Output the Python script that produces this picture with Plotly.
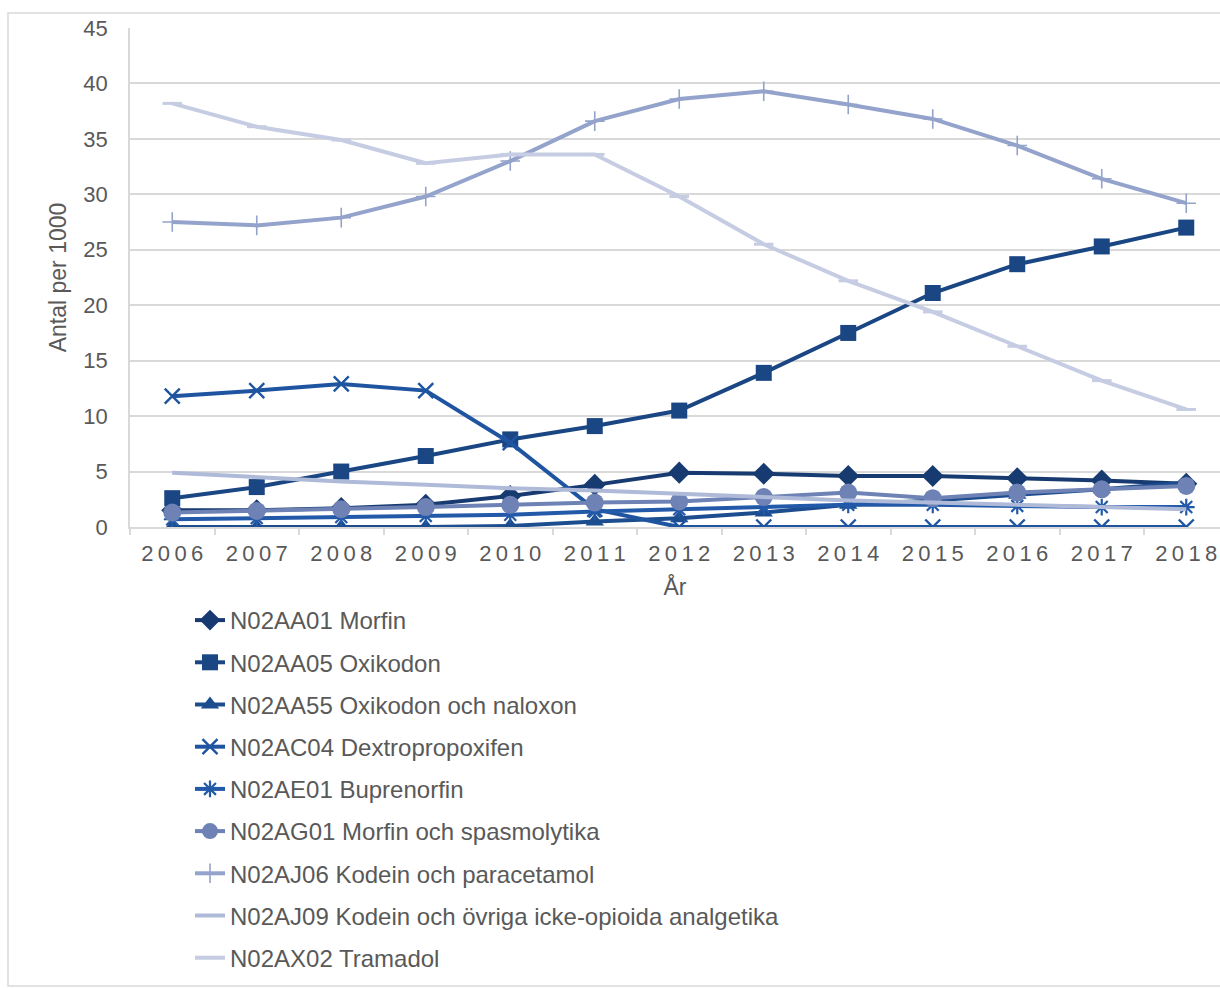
import plotly.graph_objects as go

# Consumption of opioid analgesics per 1000 inhabitants, 2006-2018
years = list(range(2006, 2019))
year_labels = ["\u2009".join(str(y)) for y in years]

morfin = [1.5, 1.5, 1.7, 2.0, 2.8, 3.8, 4.9, 4.8, 4.6, 4.6, 4.4, 4.2, 3.9]
oxikodon = [2.6, 3.6, 5.0, 6.4, 7.9, 9.1, 10.5, 13.9, 17.5, 21.1, 23.7, 25.3, 27.0]
oxikodon_naloxon = [0.0, 0.0, 0.0, 0.0, 0.1, 0.5, 0.8, 1.3, 2.0, 2.4, 2.9, 3.4, 4.0]
dextropropoxifen = [11.8, 12.3, 12.9, 12.3, 7.6, 1.6, 0.0, 0.0, 0.0, 0.0, 0.0, 0.0, 0.0]
buprenorfin = [0.7, 0.8, 0.9, 1.0, 1.1, 1.4, 1.6, 1.8, 2.0, 2.0, 1.9, 1.8, 1.8]
morfin_spasmolytika = [1.3, 1.45, 1.6, 1.8, 2.0, 2.2, 2.3, 2.7, 3.1, 2.6, 3.1, 3.4, 3.7]
kodein_paracetamol = [27.5, 27.2, 27.9, 29.8, 33.0, 36.6, 38.6, 39.3, 38.1, 36.8, 34.4, 31.4, 29.2]
kodein_ovriga = [4.9, 4.5, 4.1, 3.8, 3.5, 3.3, 3.0, 2.7, 2.4, 2.2, 2.0, 1.8, 1.6]
tramadol = [38.2, 36.1, 34.9, 32.8, 33.6, 33.6, 29.8, 25.5, 22.2, 19.4, 16.3, 13.2, 10.6]

series = [
    ("N02AA01 Morfin", morfin, "#173B70", "diamond", 17, None),
    ("N02AA05 Oxikodon", oxikodon, "#1A4683", "square", 16, None),
    ("N02AA55 Oxikodon och naloxon", oxikodon_naloxon, "#1C4D8E", "triangle-up", 16, None),
    ("N02AC04 Dextropropoxifen", dextropropoxifen, "#1F55A0", "x-thin", 15, 2.4),
    ("N02AE01 Buprenorfin", buprenorfin, "#2259A8", "asterisk", 14, 2.2),
    ("N02AG01 Morfin och spasmolytika", morfin_spasmolytika, "#6E82B5", "circle", 18, None),
    ("N02AJ06 Kodein och paracetamol", kodein_paracetamol, "#94A3CB", "cross-thin", 14, 1.6),
    ("N02AJ09 Kodein och övriga icke-opioida analgetika", kodein_ovriga, "#AEBAD8", None, 0, None),
    ("N02AX02 Tramadol", tramadol, "#C6CDE3", "line-ew", 14, 3.0),
]

fig = go.Figure()
for i, (name, vals, color, symbol, size, lw) in enumerate(series):
    if symbol is None:
        mode = "lines"
        marker = dict()
    else:
        mode = "lines+markers"
        marker = dict(symbol=symbol, size=size, color=color)
        if lw:
            marker["line"] = dict(color=color, width=lw)
    fig.add_trace(go.Scatter(
        x=years, y=vals, name=name, mode=mode,
        line=dict(color=color, width=4),
        marker=marker, legendgroup=f"g{i}",
    ))

font_family = "Liberation Sans, Arial, sans-serif"
text_color = "#595959"
grid_color = "#D9D9D9"

PLOT_L, PLOT_R, PLOT_T, PLOT_B = 130, 1220, 28, 527
pw, ph = PLOT_R - PLOT_L, PLOT_B - PLOT_T


def px_x(x):
    return (x - PLOT_L) / pw


def px_y(y):
    return (PLOT_B - y) / ph


fig.update_layout(
    width=1220, height=988,
    margin=dict(l=PLOT_L, r=1220 - PLOT_R, t=PLOT_T, b=988 - PLOT_B, autoexpand=False),
    paper_bgcolor="white", plot_bgcolor="white",
    font=dict(family=font_family, size=22, color=text_color),
    showlegend=True,
    legend=dict(
        x=px_x(190), y=px_y(598), xanchor="left", yanchor="top",
        font=dict(size=24, color=text_color),
        tracegroupgap=8, itemwidth=30,
        bgcolor="rgba(0,0,0,0)",
    ),
    xaxis=dict(
        range=[2005.5, 2005.5 + pw / 84.5],
        tickvals=years, ticktext=year_labels, tickangle=0,
        ticks="outside", ticklen=6, tickcolor="rgba(0,0,0,0)",
        showgrid=False, zeroline=False,
        showline=True, linecolor=grid_color, linewidth=1.5,
        minor=dict(tickvals=[y - 0.5 for y in years] + [2018.5],
                   ticks="outside", ticklen=6, tickcolor=grid_color, tickwidth=1.5,
                   showgrid=False),
        title=dict(text="År", font=dict(size=23, color=text_color), standoff=14),
        tickfont=dict(size=22, color=text_color),
        fixedrange=True,
    ),
    yaxis=dict(
        range=[0, 45], tickvals=list(range(0, 46, 5)),
        showgrid=True, gridcolor=grid_color, gridwidth=1.5,
        zeroline=False,
        showline=True, linecolor=grid_color, linewidth=1.5,
        ticks="outside", ticklen=16, tickcolor="rgba(0,0,0,0)",
        tickfont=dict(size=22, color=text_color),
        title=dict(text="Antal per 1000", font=dict(size=23, color=text_color), standoff=10),
        fixedrange=True,
    ),
    shapes=[dict(
        type="rect", xref="paper", yref="paper",
        x0=px_x(8), x1=px_x(1226),
        y0=px_y(986), y1=px_y(13),
        line=dict(color=grid_color, width=1.5), fillcolor="rgba(0,0,0,0)", layer="below",
    )],
)

fig.write_html("out.html")
